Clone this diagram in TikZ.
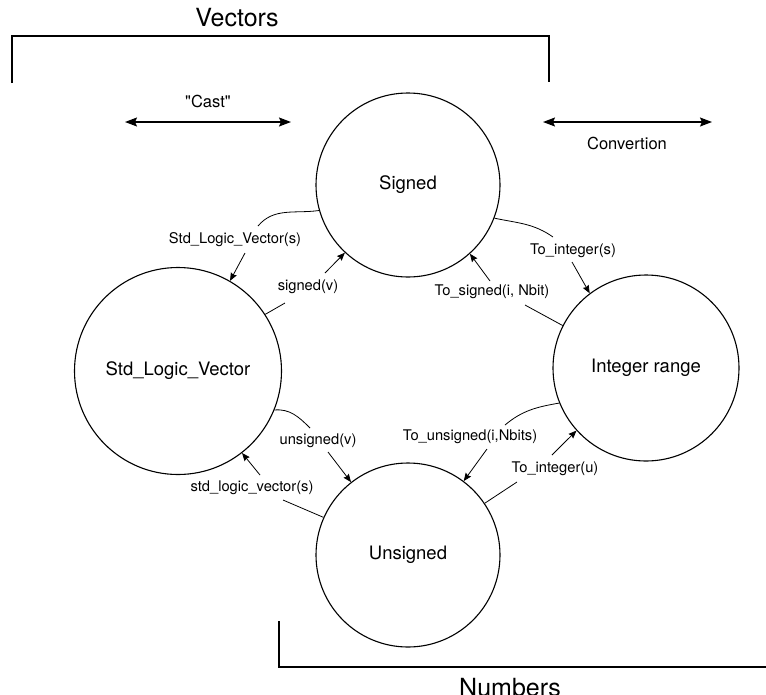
\documentclass[tikz,border=0pt]{standalone}
\usepackage{fontspec}
\setmainfont{TeX Gyre Heros}[Ligatures=TeXOff]
\usetikzlibrary{arrows.meta}
\begin{document}
\begin{tikzpicture}[x=1pt,y=1pt,
  state/.style={circle, draw, line width=1.1pt, minimum size=#1, inner sep=0pt,
    font=\fontsize{18.5}{22}\selectfont},
  fn/.style={inner sep=1pt, fill=white, font=\fontsize{14.7}{17}\selectfont},
  tail/.style={line width=0.8pt},
  conv/.style={line width=0.8pt, -{Stealth[length=8pt,width=6.5pt,inset=1pt]}},
  bracket/.style={line width=1.4pt},
  span/.style={line width=1.4pt,
    {Stealth[length=12pt,width=9pt,inset=2pt]}-{Stealth[length=12pt,width=9pt,inset=2pt]}},
  title/.style={font=\fontsize{25}{30}\selectfont},
  note/.style={font=\fontsize{16.5}{19}\selectfont}]
\useasboundingbox (0,0) rectangle (766,-694);

% group brackets
\draw[bracket] (12,-83) -- (12,-36) -- (549,-36) -- (549,-82);
\node[title] (vec) at (237,-18) {Vectors};
\draw[bracket] (279,-621) -- (279,-667) -- (766,-667);
\node[title, anchor=base] (num) at (510,-696) {Numbers};

% kind of operation
\coordinate (castL) at (125,-122);
\coordinate (castR) at (291,-122);
\draw[span] (castL) -- (castR);
\node[note] (cast) at (208,-101) {"Cast"};
\coordinate (convL) at (543,-122);
\coordinate (convR) at (712,-122);
\draw[span] (convL) -- (convR);
\node[note] (conv) at (627,-143) {Convertion};

% types
\node[state=184pt] (sig) at (408,-185) {Signed};
\node[state=207pt] (slv) at (178,-371) {Std\_Logic\_Vector};
\node[state=186pt] (int) at (646,-368) {Integer range};
\node[state=184pt] (uns) at (408,-555) {Unsigned};

% conversion functions
\node[fn] (l1) at (235,-240) {Std\_Logic\_Vector(s)};
\node[fn] (l2) at (308,-287) {signed(v)};
\node[fn] (l3) at (573,-251) {To\_integer(s)};
\node[fn] (l4) at (492,-292) {To\_signed(i, Nbit)};
\node[fn] (l5) at (318,-441) {unsigned(v)};
\node[fn] (l6) at (252,-488) {std\_logic\_vector(s)};
\node[fn] (l7) at (470,-437) {To\_unsigned(i,Nbits)};
\node[fn] (l8) at (555,-469) {To\_integer(u)};

% Signed -> Std_Logic_Vector
\draw[tail] (sig.196) to[out=188,in=50] ([shift={(23,14)}]l1.center);
\draw[conv] ([shift={(10,-13)}]l1.center) -- (slv.60);
% Std_Logic_Vector -> Signed
\draw[tail] (slv.33) -- ([shift={(-23,-16)}]l2.center);
\draw[conv] ([shift={(17,14)}]l2.center) -- (sig.227);
% Signed -> Integer
\draw[tail] (sig.339) to[out=-12,in=145] ([shift={(-20,14)}]l3.center);
\draw[conv] ([shift={(-1,-11)}]l3.center) -- (int.127);
% Integer -> Signed
\draw[tail] (int.153) -- ([shift={(33,-13)}]l4.center);
\draw[conv] ([shift={(-2,11)}]l4.center) -- (sig.312);
% Std_Logic_Vector -> Unsigned
\draw[tail] (slv.-22) to[out=5,in=135] ([shift={(-8,13)}]l5.center);
\draw[conv] ([shift={(10,-11)}]l5.center) -- (uns.128);
% Unsigned -> Std_Logic_Vector
\draw[tail] (uns.156) -- ([shift={(31,-12)}]l6.center);
\draw[conv] ([shift={(8,13)}]l6.center) -- (slv.-52);
% Integer -> Unsigned
\draw[tail] (int.202) to[out=190,in=40] ([shift={(35,12)}]l7.center);
\draw[conv] ([shift={(17,-12)}]l7.center) -- (uns.53);
% Unsigned -> Integer
\draw[tail] (uns.34.5) -- ([shift={(-38,-13)}]l8.center);
\draw[conv] ([shift={(-3,14)}]l8.center) -- (int.222);
\end{tikzpicture}
\end{document}
